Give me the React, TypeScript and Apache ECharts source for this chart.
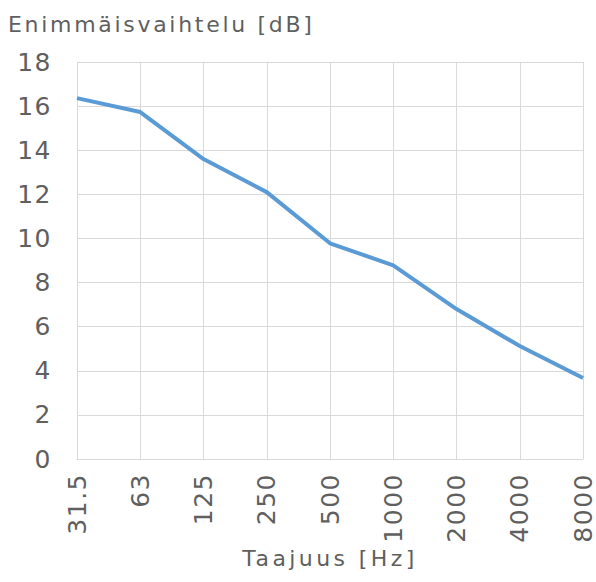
import React, { useEffect, useRef } from "react";
import * as echarts from "echarts";

const categories = ["31.5", "63", "125", "250", "500", "1000", "2000", "4000", "8000"];
const values = [16.36, 15.73, 13.6, 12.1, 9.78, 8.78, 6.8, 5.12, 3.67];
const yTicks = { min: 0, max: 18, interval: 2 };
const titleText = "Enimmäisvaihtelu [dB]";
const xName = "Taajuus [Hz]";

const FONT = "'DejaVu Sans', Verdana, sans-serif";
const GRAY = "#5f5f5f";

export default function App() {
  const ref = useRef<HTMLDivElement>(null);
  useEffect(() => {
    if (!ref.current) return;
    const chart = echarts.init(ref.current, undefined, { renderer: "svg" });
    chart.setOption({
      animation: false,
      backgroundColor: "#ffffff",
      graphic: [
        {
          type: "text",
          left: 8,
          top: 13,
          style: { text: titleText, fontSize: 22, fontFamily: FONT, fill: GRAY },
        },
      ],
      grid: { left: 77, right: 13, top: 62, bottom: 123, containLabel: false },
      xAxis: {
        type: "category",
        data: categories,
        boundaryGap: false,
        axisLine: { lineStyle: { color: "#d9d9d9", width: 1 } },
        axisTick: { show: false },
        axisLabel: {
          rotate: 90,
          margin: 14,
          fontSize: 25,
          fontFamily: FONT,
          color: GRAY,
          interval: 0,
        },
        splitLine: { show: true, lineStyle: { color: "#d9d9d9", width: 1 } },
        name: xName,
        nameLocation: "middle",
        nameGap: 99,
        nameTextStyle: { fontSize: 22, fontFamily: FONT, color: GRAY, verticalAlign: "middle" },
      },
      yAxis: {
        type: "value",
        min: yTicks.min,
        max: yTicks.max,
        interval: yTicks.interval,
        axisLine: { show: false },
        axisTick: { show: false },
        axisLabel: { margin: 25, fontSize: 25, fontFamily: FONT, color: GRAY },
        splitLine: { show: true, lineStyle: { color: "#d9d9d9", width: 1 } },
      },
      series: [
        {
          type: "line",
          data: values,
          symbol: "none",
          silent: true,
          lineStyle: { color: "#5b9bd5", width: 4 },
        },
      ],
    });
    const texts = ref.current.querySelectorAll("text");
    texts.forEach((t) => {
      const s = t.textContent || "";
      if (/^[0-9.]+$/.test(s)) {
        (t as SVGTextElement).style.letterSpacing = "1.5px";
      } else if (s === titleText) {
        (t as SVGTextElement).style.letterSpacing = "2.7px";
      } else if (s === xName) {
        (t as SVGTextElement).style.letterSpacing = "3.4px";
      }
    });
    return () => chart.dispose();
  }, []);
  return <div ref={ref} style={{ width: 596, height: 582, position: "absolute", left: 0, top: 0 }} />;
}
